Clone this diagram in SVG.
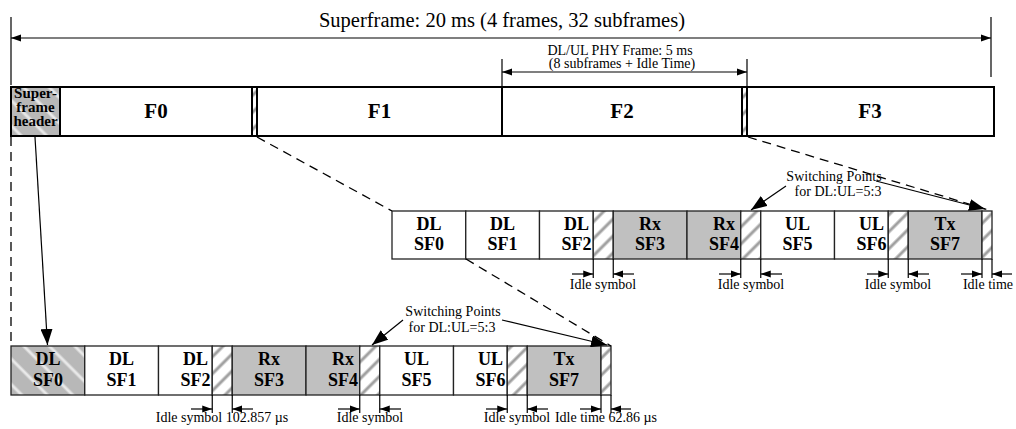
<svg xmlns="http://www.w3.org/2000/svg" width="1016" height="429" viewBox="0 0 1016 429">
<style>
.fr{fill:#fff;stroke:#000;stroke-width:2}
.sf{stroke:#222;stroke-width:1.3}
.w{fill:#fff}.g{fill:#c0c0c0}.h{fill:url(#hatch)}.hh{fill:url(#hdr)}
.lbl{font-family:"Liberation Serif",serif;font-weight:bold;font-size:18px;text-anchor:middle;fill:#000}
.big{font-family:"Liberation Serif",serif;font-weight:bold;font-size:21px;text-anchor:middle;fill:#000}
.hdr{font-family:"Liberation Serif",serif;font-weight:bold;font-size:15px;text-anchor:middle;fill:#000}
.t{font-family:"Liberation Serif",serif;font-size:14px;text-anchor:middle;fill:#000}
.dash{stroke:#000;stroke-width:1.3;stroke-dasharray:9 6;fill:none}
.ln{stroke:#000;stroke-width:1.2;fill:none}
.dim{stroke:#000;stroke-width:1.2;fill:none;marker-end:url(#ah)}
</style>
<defs>
<pattern id="hatch" patternUnits="userSpaceOnUse" width="12" height="12" patternTransform="rotate(45)">
<rect width="12" height="12" fill="#fff"/>
<line x1="6" y1="0" x2="6" y2="12" stroke="#a0a0a0" stroke-width="3"/>
</pattern>
<pattern id="hdr" patternUnits="userSpaceOnUse" width="18" height="18" patternTransform="rotate(-45)">
<rect width="18" height="18" fill="#b8b8b8"/>
<line x1="9" y1="0" x2="9" y2="18" stroke="#e8e8e8" stroke-width="3"/>
</pattern>
<marker id="ah" markerUnits="userSpaceOnUse" markerWidth="10" markerHeight="8" refX="10" refY="4" orient="auto-start-reverse">
<path d="M0,0.5 L10,4 L0,7.5 z" fill="#000"/>
</marker>
<marker id="ab" markerUnits="userSpaceOnUse" markerWidth="16" markerHeight="12" refX="16" refY="6" orient="auto">
<path d="M0,0 L16,6 L0,12 z" fill="#000"/>
</marker>
</defs>
<rect width="1016" height="429" fill="#fff"/>

<text x="502" y="27" font-family="Liberation Serif, serif" font-size="20.5" text-anchor="middle">Superframe: 20 ms (4 frames, 32 subframes)</text>
<text x="620" y="55" class="t" font-size="13.5">DL/UL PHY Frame: 5 ms</text>
<text x="622" y="68" class="t" font-size="13.5">(8 subframes + Idle Time)</text>

<!-- frame bar -->
<g id="sf-header"><rect x="11" y="87" width="49" height="49" class="fr hh"/>
<text x="35.5" y="98" class="hdr">Super-</text><text x="35.5" y="112" class="hdr">frame</text><text x="35.5" y="126" class="hdr">header</text></g>
<g id="F0"><rect x="60" y="87" width="192" height="49" class="fr"/><text x="156" y="118" class="big">F0</text></g>
<g id="F0-idle"><rect x="252" y="87" width="5" height="49" class="fr h" stroke-width="1"/></g>
<g id="F1"><rect x="257" y="87" width="245" height="49" class="fr"/><text x="379.5" y="118" class="big">F1</text></g>
<g id="F2"><rect x="502" y="87" width="240" height="49" class="fr"/><text x="622" y="118" class="big">F2</text></g>
<g id="F2-idle"><rect x="742" y="87" width="5" height="49" class="fr h" stroke-width="1"/></g>
<g id="F3"><rect x="747" y="87" width="247" height="49" class="fr"/><text x="870" y="118" class="big">F3</text></g>

<!-- middle row -->
<g id="row-mid" transform="translate(392,211)">
<g id="m-sf0"><rect x="0" y="0" width="73.75" height="48" class="sf w"/><text x="36.9" y="19" class="lbl">DL</text><text x="36.9" y="39" class="lbl">SF0</text></g>
<g id="m-sf1"><rect x="73.75" y="0" width="73.75" height="48" class="sf w"/><text x="110.6" y="19" class="lbl">DL</text><text x="110.6" y="39" class="lbl">SF1</text></g>
<g id="m-sf2"><rect x="147.5" y="0" width="53.75" height="48" class="sf w"/><rect x="201.25" y="0" width="20" height="48" class="sf h"/><text x="184.4" y="19" class="lbl">DL</text><text x="184.4" y="39" class="lbl">SF2</text></g>
<g id="m-sf3"><rect x="221.25" y="0" width="73.75" height="48" class="sf g"/><text x="258.1" y="19" class="lbl">Rx</text><text x="258.1" y="39" class="lbl">SF3</text></g>
<g id="m-sf4"><rect x="295" y="0" width="53.75" height="48" class="sf g"/><rect x="348.75" y="0" width="20" height="48" class="sf h"/><text x="331.9" y="19" class="lbl">Rx</text><text x="331.9" y="39" class="lbl">SF4</text></g>
<g id="m-sf5"><rect x="368.75" y="0" width="73.75" height="48" class="sf w"/><text x="405.6" y="19" class="lbl">UL</text><text x="405.6" y="39" class="lbl">SF5</text></g>
<g id="m-sf6"><rect x="442.5" y="0" width="53.75" height="48" class="sf w"/><rect x="496.25" y="0" width="20" height="48" class="sf h"/><text x="479.4" y="19" class="lbl">UL</text><text x="479.4" y="39" class="lbl">SF6</text></g>
<g id="m-sf7"><rect x="516.25" y="0" width="73.75" height="48" class="sf g"/><rect x="590" y="0" width="10" height="48" class="sf h"/><text x="553.1" y="19" class="lbl">Tx</text><text x="553.1" y="39" class="lbl">SF7</text></g>
</g>

<!-- bottom row -->
<g id="row-bot" transform="translate(11,346)">
<g id="b-sf0"><rect x="0" y="0" width="73.75" height="49" class="sf hh"/><text x="36.9" y="19" class="lbl">DL</text><text x="36.9" y="39.5" class="lbl">SF0</text></g>
<g id="b-sf1"><rect x="73.75" y="0" width="73.75" height="49" class="sf w"/><text x="110.6" y="19" class="lbl">DL</text><text x="110.6" y="39.5" class="lbl">SF1</text></g>
<g id="b-sf2"><rect x="147.5" y="0" width="53.75" height="49" class="sf w"/><rect x="201.25" y="0" width="20" height="49" class="sf h"/><text x="184.4" y="19" class="lbl">DL</text><text x="184.4" y="39.5" class="lbl">SF2</text></g>
<g id="b-sf3"><rect x="221.25" y="0" width="73.75" height="49" class="sf g"/><text x="258.1" y="19" class="lbl">Rx</text><text x="258.1" y="39.5" class="lbl">SF3</text></g>
<g id="b-sf4"><rect x="295" y="0" width="53.75" height="49" class="sf g"/><rect x="348.75" y="0" width="20" height="49" class="sf h"/><text x="331.9" y="19" class="lbl">Rx</text><text x="331.9" y="39.5" class="lbl">SF4</text></g>
<g id="b-sf5"><rect x="368.75" y="0" width="73.75" height="49" class="sf w"/><text x="405.6" y="19" class="lbl">UL</text><text x="405.6" y="39.5" class="lbl">SF5</text></g>
<g id="b-sf6"><rect x="442.5" y="0" width="53.75" height="49" class="sf w"/><rect x="496.25" y="0" width="20" height="49" class="sf h"/><text x="479.4" y="19" class="lbl">UL</text><text x="479.4" y="39.5" class="lbl">SF6</text></g>
<g id="b-sf7"><rect x="516.25" y="0" width="73.75" height="49" class="sf g"/><rect x="590" y="0" width="10" height="49" class="sf h"/><text x="553.1" y="19" class="lbl">Tx</text><text x="553.1" y="39.5" class="lbl">SF7</text></g>
</g>

<!-- connectors -->
<g id="connectors">
<line x1="11" y1="17" x2="11" y2="85" class="ln"/>
<line x1="991" y1="17" x2="991" y2="77" class="ln"/>
<line x1="11" y1="38" x2="991" y2="38" class="ln" marker-start="url(#ah)" marker-end="url(#ah)"/>
<line x1="502" y1="59" x2="502" y2="87" class="ln"/>
<line x1="747" y1="59" x2="747" y2="87" class="ln"/>
<line x1="502" y1="72" x2="747" y2="72" class="ln" marker-start="url(#ah)" marker-end="url(#ah)"/>

<line x1="11" y1="137" x2="11" y2="346" class="dash"/>
<line x1="35" y1="137" x2="47.5" y2="345" class="ln" marker-end="url(#ab)"/>
<line x1="257" y1="137" x2="392" y2="211" class="dash"/>
<line x1="748" y1="137" x2="992" y2="211" class="dash"/>
<line x1="466" y1="259" x2="611" y2="346" class="dash"/>

<line x1="786" y1="186" x2="751" y2="210" class="ln" marker-end="url(#ab)"/>
<line x1="876" y1="181" x2="985" y2="209" class="ln" marker-end="url(#ab)"/>
<line x1="403" y1="320" x2="372" y2="345" class="ln" marker-end="url(#ab)"/>
<line x1="502" y1="320" x2="607" y2="345" class="ln" marker-end="url(#ab)"/>
</g>

<!-- switching point labels -->
<g id="sw-mid"><text x="834" y="181" class="t">Switching Points</text><text x="838" y="196" class="t">for DL:UL=5:3</text></g>
<g id="sw-bot"><text x="453" y="316" class="t">Switching Points</text><text x="452" y="332" class="t">for DL:UL=5:3</text></g>

<!-- idle dimensions middle row -->
<g id="dims-mid">
<path d="M593.25,259V278M613.25,259V278M740.75,259V278M760.75,259V278M888.25,259V278M908.25,259V278M982,259V278M992,259V278" class="ln"/>
<line x1="572" y1="274" x2="593.25" y2="274" class="dim"/>
<line x1="634" y1="274" x2="613.25" y2="274" class="dim"/>
<line x1="719" y1="274" x2="740.75" y2="274" class="dim"/>
<line x1="782" y1="274" x2="760.75" y2="274" class="dim"/>
<line x1="867" y1="274" x2="888.25" y2="274" class="dim"/>
<line x1="929" y1="274" x2="908.25" y2="274" class="dim"/>
<line x1="961" y1="274" x2="982" y2="274" class="dim"/>
<line x1="1012" y1="274" x2="992" y2="274" class="dim"/>
<text x="603" y="289" class="t">Idle symbol</text>
<text x="751" y="289" class="t">Idle symbol</text>
<text x="898" y="289" class="t">Idle symbol</text>
<text x="988" y="289" class="t">Idle time</text>
</g>

<!-- idle dimensions bottom row -->
<g id="dims-bot">
<path d="M212.25,395V413M232.25,395V413M359.75,395V413M379.75,395V413M507.25,395V413M527.25,395V413M601,395V413M611,395V413" class="ln"/>
<line x1="191" y1="409" x2="212.25" y2="409" class="dim"/>
<line x1="253" y1="409" x2="232.25" y2="409" class="dim"/>
<line x1="338" y1="409" x2="359.75" y2="409" class="dim"/>
<line x1="401" y1="409" x2="379.75" y2="409" class="dim"/>
<line x1="486" y1="409" x2="507.25" y2="409" class="dim"/>
<line x1="548" y1="409" x2="527.25" y2="409" class="dim"/>
<line x1="580" y1="409" x2="601" y2="409" class="dim"/>
<line x1="631" y1="409" x2="611" y2="409" class="dim"/>
<text x="222" y="422" class="t">Idle symbol 102.857 µs</text>
<text x="370" y="422" class="t">Idle symbol</text>
<text x="517" y="422" class="t">Idle symbol</text>
<text x="606" y="422" class="t">Idle time 62.86 µs</text>
</g>
</svg>
